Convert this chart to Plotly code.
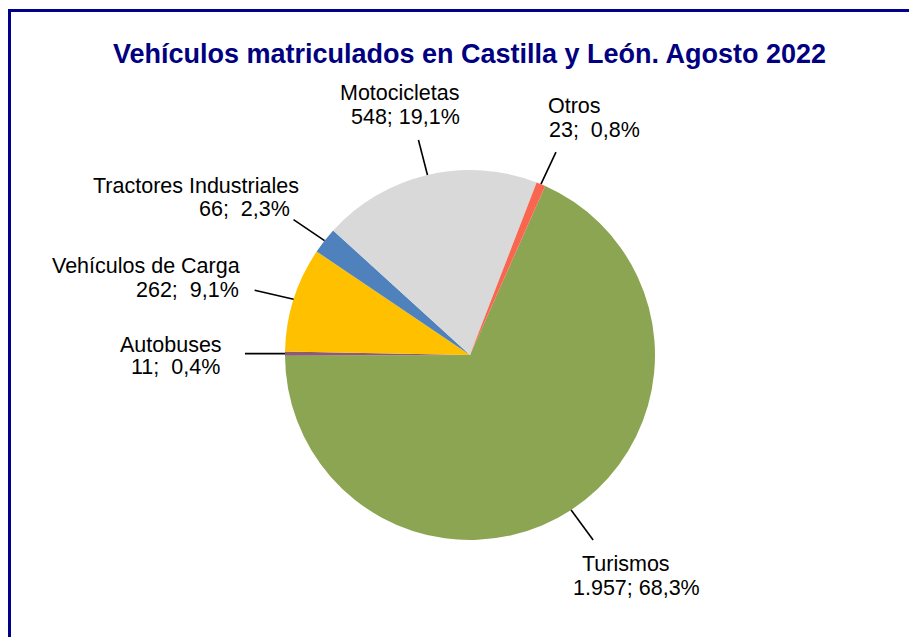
import math
import plotly.graph_objects as go

# ---- data ----
labels = ["Turismos", "Autobuses", "Vehículos de Carga", "Tractores Industriales", "Motocicletas", "Otros"]
values = [1957, 11, 262, 66, 548, 23]
colors = ["#8BA552", "#8C5B6E", "#FFC000", "#4F81BD", "#D9D9D9", "#F96650"]
title_text = "Vehículos matriculados en Castilla y León. Agosto 2022"

# ---- layout constants (screen pixels) ----
OFF = 8                      # page body margin
W, H = 917 - OFF, 637 - OFF
CX, CY, R = 470, 355, 185
ROTATION = 24
FONT = "Liberation Sans, Arial, sans-serif"
FS = 21.5

# label styling: line1 centre x, line2 centre x, baseline1, baseline2, leader offset (dx, dy)
label_style = {
    "Turismos": (625.5, 636, 572, 596, (22, 30)),
    "Autobuses": (171, 175, 353, 375, (-40, 0)),
    "Vehículos de Carga": (146, 187.5, 274, 298, (-39, -9)),
    "Tractores Industriales": (196, 244.5, 194, 217, (-31, -21)),
    "Motocicletas": (400, 405, 101, 125, (-9, -35)),
    "Otros": (574, 594, 114, 138, (15, -32)),
}


def px(x):
    return (x - OFF) / W


def py(y):
    return 1 - (y - OFF) / H


def fmt_int(v):
    return f"{v:,}".replace(",", ".")


def fmt_pct(p):
    return f"{p:.1f}%".replace(".", ",")


total = sum(values)

fig = go.Figure(go.Pie(
    labels=labels,
    values=values,
    sort=False,
    direction="clockwise",
    rotation=ROTATION,
    marker=dict(colors=colors, line=dict(width=0)),
    textinfo="none",
    hoverinfo="label+value+percent",
    showlegend=False,
    domain=dict(x=[px(CX - R), px(CX + R)], y=[py(CY + R), py(CY - R)]),
))

annotations = []
shapes = []
cum = 0
for lab, v in zip(labels, values):
    frac = v / total
    mid = cum + frac / 2
    cum += frac
    ang = math.radians(ROTATION + mid * 360)
    tx = CX + R * math.sin(ang)
    ty = CY - R * math.cos(ang)
    x1c, x2c, b1, b2, (dx, dy) = label_style[lab]
    shapes.append(dict(type="line", xref="paper", yref="paper",
                       x0=px(tx), y0=py(ty), x1=px(tx + dx), y1=py(ty + dy),
                       line=dict(color="black", width=1.6)))
    pct = frac * 100
    pad = "\u00a0" if pct < 10 and v < 1000 else ""
    line2 = f"{fmt_int(v)}; {pad}{fmt_pct(pct)}"
    for txt, xc, b in ((lab, x1c, b1), (line2, x2c, b2)):
        annotations.append(dict(text=txt, xref="paper", yref="paper",
                                x=px(xc), y=py(b - 0.35 * FS),
                                xanchor="center", yanchor="middle",
                                showarrow=False,
                                font=dict(family=FONT, size=FS, color="black")))

# frame
shapes.append(dict(type="rect", xref="paper", yref="paper",
                   x0=px(9.5), y0=py(10.5), x1=px(917 + 20), y1=py(637 + 20),
                   line=dict(color="#00008B", width=3), fillcolor="rgba(0,0,0,0)"))

fig.update_layout(
    width=W, height=H,
    margin=dict(l=0, r=0, t=0, b=0),
    paper_bgcolor="white",
    plot_bgcolor="white",
    title=dict(text=f"<b>{title_text}</b>", x=px(469.5), xanchor="center",
               y=py(63 - 0.35 * 27), yanchor="middle",
               font=dict(family=FONT, size=27, color="#000080")),
    annotations=annotations,
    shapes=shapes,
)

fig.write_html("out.html")
